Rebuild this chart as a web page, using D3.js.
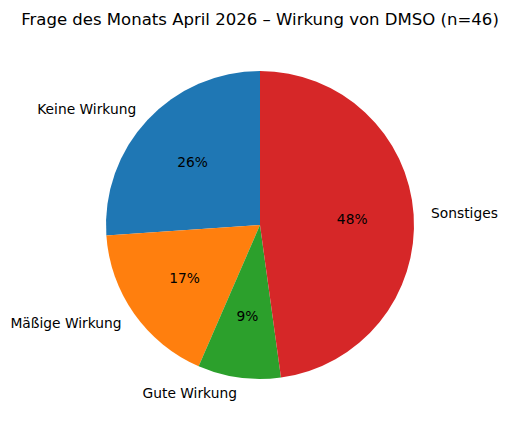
<!DOCTYPE html>
<html>
<head>
<meta charset="utf-8">
<script src="https://cdn.jsdelivr.net/npm/d3@7"></script>
<style>
  body { margin: 0; background: #fff; }
  text { font-family: "DejaVu Sans", sans-serif; }
</style>
</head>
<body>
<div id="pie"></div>
<script>
var categories = ["Keine Wirkung", "Mäßige Wirkung", "Gute Wirkung", "Sonstiges"];
var counts = [12, 8, 4, 22];
var colors = ["#1f77b4", "#ff7f0e", "#2ca02c", "#d62728"];
var title = "Frage des Monats April 2026 – Wirkung von DMSO (n=46)";

var width = 510,
    height = 427,
    radius = 154,
    cx = 260,
    cy = 225;

var data = categories.map(function(c, i) { return {name: c, value: counts[i]}; });
var total = d3.sum(counts);

var color = d3.scaleOrdinal().domain(categories).range(colors);

// counterclockwise from 12 o'clock, like matplotlib startangle=90
var pie = d3.pie()
  .sort(null)
  .startAngle(0)
  .endAngle(-2 * Math.PI)
  .value(function(d) { return d.value; })(data);

var arc = d3.arc().outerRadius(radius).innerRadius(0);
var pctArc = d3.arc().outerRadius(radius * 0.6).innerRadius(radius * 0.6);
var labelArc = d3.arc().outerRadius(radius * 1.1).innerRadius(radius * 1.1);

var svg = d3.select("#pie").append("svg")
  .attr("width", width)
  .attr("height", height);

svg.append("text")
  .attr("x", cx)
  .attr("y", 25)
  .attr("text-anchor", "middle")
  .style("font-size", "16.55px")
  .text(title);

var g = svg.append("g")
  .attr("transform", "translate(" + cx + "," + cy + ")");

var slices = g.selectAll(".arc")
  .data(pie)
  .enter().append("g")
  .attr("class", "arc");

slices.append("path")
  .attr("d", arc)
  .style("fill", function(d) { return color(d.data.name); });

slices.append("text")
  .attr("transform", function(d) { return "translate(" + pctArc.centroid(d) + ")"; })
  .attr("text-anchor", "middle")
  .attr("dy", "0.35em")
  .style("font-size", "13.8px")
  .text(function(d) { return Math.round(d.data.value / total * 100) + "%"; });

slices.append("text")
  .attr("transform", function(d) {
    var c = labelArc.centroid(d);
    return "translate(" + (c[0] > 0 ? c[0] + 2 : c[0]) + "," + c[1] + ")";
  })
  .attr("text-anchor", function(d) { return labelArc.centroid(d)[0] > 0 ? "start" : "end"; })
  .attr("dy", "0.35em")
  .style("font-size", "13.8px")
  .text(function(d) { return d.data.name; });
</script>
</body>
</html>
